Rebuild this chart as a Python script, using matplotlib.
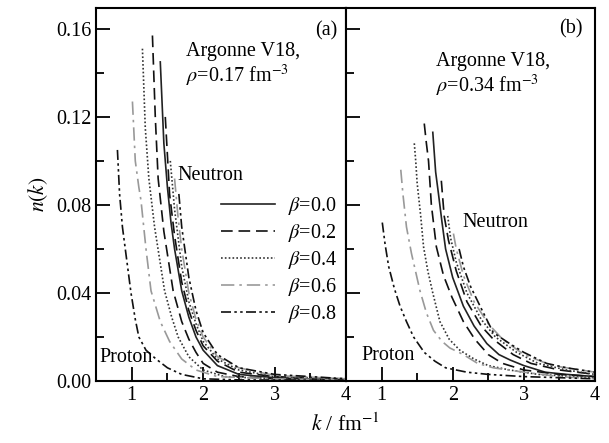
import numpy as np
import matplotlib
matplotlib.use('Agg')
import matplotlib.pyplot as plt
from matplotlib.ticker import MultipleLocator, FormatStrFormatter

matplotlib.rc('font', size=14.5)
matplotlib.rc('font', family='Liberation Serif')
matplotlib.rc('mathtext', fontset='stix')

betas = ['0.0', '0.2', '0.4', '0.6', '0.8']

# panel (a): rho = 0.17 fm^-3
a_k_b00 = [1.40, 1.45, 1.50, 1.55, 1.60, 1.70, 1.80, 1.90, 2.00, 2.20, 2.50, 3.00, 3.50, 4.00]
a_n_b00 = [0.145, 0.108, 0.088, 0.072, 0.060, 0.041, 0.029, 0.020, 0.014, 0.007, 0.003, 0.0015, 0.0008, 0.0005]

a_k_p02 = [1.29, 1.33, 1.37, 1.45, 1.58, 1.70, 1.80, 1.90, 2.00, 2.20, 2.50, 3.00, 4.00]
a_n_p02 = [0.157, 0.120, 0.092, 0.068, 0.041, 0.027, 0.019, 0.013, 0.008, 0.004, 0.002, 0.001, 0.0005]
a_k_n02 = [1.47, 1.53, 1.60, 1.70, 1.80, 1.90, 2.00, 2.20, 2.50, 3.00, 4.00]
a_n_n02 = [0.120, 0.085, 0.066, 0.045, 0.032, 0.023, 0.016, 0.009, 0.004, 0.002, 0.0008]

a_k_p04 = [1.15, 1.19, 1.24, 1.32, 1.46, 1.56, 1.65, 1.80, 2.00, 2.30, 3.00, 4.00]
a_n_p04 = [0.151, 0.115, 0.092, 0.070, 0.041, 0.029, 0.020, 0.011, 0.005, 0.002, 0.001, 0.0005]
a_k_n04 = [1.54, 1.60, 1.70, 1.80, 1.90, 2.00, 2.20, 2.50, 3.00, 4.00]
a_n_n04 = [0.100, 0.078, 0.052, 0.036, 0.026, 0.018, 0.010, 0.005, 0.002, 0.001]

a_k_p06 = [1.01, 1.05, 1.10, 1.13, 1.20, 1.27, 1.40, 1.53, 1.70, 1.90, 2.20, 3.00, 4.00]
a_n_p06 = [0.127, 0.100, 0.088, 0.082, 0.060, 0.041, 0.027, 0.018, 0.010, 0.005, 0.002, 0.001, 0.0005]
a_k_n06 = [1.60, 1.65, 1.70, 1.80, 1.90, 2.00, 2.20, 2.50, 3.00, 4.00]
a_n_n06 = [0.092, 0.074, 0.060, 0.040, 0.028, 0.020, 0.011, 0.006, 0.0025, 0.001]

a_k_p08 = [0.80, 0.83, 0.87, 0.93, 0.99, 1.05, 1.10, 1.20, 1.34, 1.50, 1.70, 2.00, 2.50, 4.00]
a_n_p08 = [0.105, 0.085, 0.070, 0.055, 0.040, 0.028, 0.020, 0.014, 0.010, 0.006, 0.003, 0.001, 0.0005, 0.0003]
a_k_n08 = [1.66, 1.70, 1.80, 1.90, 2.00, 2.20, 2.50, 3.00, 4.00]
a_n_n08 = [0.085, 0.070, 0.047, 0.032, 0.022, 0.012, 0.006, 0.003, 0.001]

# panel (b): rho = 0.34 fm^-3
b_k_b00 = [1.72, 1.76, 1.80, 1.85, 1.90, 2.00, 2.15, 2.30, 2.48, 2.65, 2.81, 3.00, 3.30, 3.60, 4.00]
b_n_b00 = [0.113, 0.095, 0.085, 0.072, 0.060, 0.047, 0.034, 0.025, 0.017, 0.012, 0.0095, 0.007, 0.004, 0.003, 0.002]

b_k_p02 = [1.60, 1.63, 1.66, 1.70, 1.77, 1.87, 1.99, 2.15, 2.31, 2.50, 2.70, 3.00, 3.50, 4.00]
b_n_p02 = [0.117, 0.108, 0.100, 0.080, 0.061, 0.048, 0.038, 0.027, 0.019, 0.012, 0.008, 0.005, 0.003, 0.002]
b_k_n02 = [1.84, 1.88, 1.94, 2.05, 2.20, 2.40, 2.57, 2.85, 3.10, 3.50, 4.00]
b_n_n02 = [0.091, 0.075, 0.064, 0.050, 0.036, 0.025, 0.019, 0.012, 0.008, 0.005, 0.003]

b_k_p04 = [1.46, 1.48, 1.50, 1.55, 1.59, 1.65, 1.72, 1.82, 1.95, 2.10, 2.30, 2.50, 2.80, 3.20, 4.00]
b_n_p04 = [0.108, 0.100, 0.090, 0.075, 0.061, 0.050, 0.040, 0.027, 0.019, 0.014, 0.010, 0.007, 0.005, 0.003, 0.0015]
b_k_n04 = [1.93, 1.97, 2.05, 2.20, 2.40, 2.60, 2.90, 3.20, 3.60, 4.00]
b_n_n04 = [0.075, 0.065, 0.054, 0.040, 0.028, 0.020, 0.013, 0.008, 0.005, 0.003]

b_k_p06 = [1.27, 1.30, 1.35, 1.42, 1.54, 1.63, 1.73, 1.85, 1.96, 2.15, 2.35, 2.57, 3.00, 3.50, 4.00]
b_n_p06 = [0.096, 0.085, 0.070, 0.058, 0.041, 0.031, 0.023, 0.018, 0.015, 0.012, 0.008, 0.006, 0.004, 0.002, 0.001]
b_k_n06 = [2.01, 2.05, 2.15, 2.30, 2.50, 2.70, 3.00, 3.40, 4.00]
b_n_n06 = [0.067, 0.060, 0.048, 0.036, 0.026, 0.019, 0.012, 0.007, 0.004]

b_k_p08 = [1.01, 1.05, 1.10, 1.18, 1.26, 1.35, 1.45, 1.60, 1.75, 1.90, 2.20, 2.50, 3.00, 4.00]
b_n_p08 = [0.072, 0.062, 0.052, 0.042, 0.034, 0.027, 0.020, 0.013, 0.009, 0.006, 0.004, 0.003, 0.002, 0.001]
b_k_n08 = [2.09, 2.15, 2.25, 2.40, 2.57, 2.80, 3.00, 3.32, 3.60, 4.00]
b_n_n08 = [0.060, 0.052, 0.043, 0.033, 0.022, 0.017, 0.013, 0.008, 0.006, 0.004]

styles = [dict(color='#222222', ls='-'),
          dict(color='#111111', ls=(0, (7, 3.5))),
          dict(color='#333333', ls=(0, (1, 1.3))),
          dict(color='#999999', ls=(0, (8, 3, 1.5, 3))),
          dict(color='#111111', ls=(0, (6, 2, 1.5, 2, 1.5, 2)))]

panel_a = [[(a_k_b00, a_n_b00)],
           [(a_k_p02, a_n_p02), (a_k_n02, a_n_n02)],
           [(a_k_p04, a_n_p04), (a_k_n04, a_n_n04)],
           [(a_k_p06, a_n_p06), (a_k_n06, a_n_n06)],
           [(a_k_p08, a_n_p08), (a_k_n08, a_n_n08)]]
panel_b = [[(b_k_b00, b_n_b00)],
           [(b_k_p02, b_n_p02), (b_k_n02, b_n_n02)],
           [(b_k_p04, b_n_p04), (b_k_n04, b_n_n04)],
           [(b_k_p06, b_n_p06), (b_k_n06, b_n_n06)],
           [(b_k_p08, b_n_p08), (b_k_n08, b_n_n08)]]

fig = plt.figure(figsize=(6.09, 4.43), dpi=100)
axa = fig.add_axes([96/609, 1-381/443, 250/609, 373/443])
axb = fig.add_axes([346/609, 1-381/443, 249/609, 373/443], sharey=axa)

for ax, curves in [(axa, panel_a), (axb, panel_b)]:
    for i, group in enumerate(curves):
        for j, (k, n) in enumerate(group):
            ax.plot(k, n, lw=1.2, label='$\\beta$=' + betas[i] if j == 0 else None,
                    **styles[i])
    ax.set_xlim(0.5, 4)
    ax.set_ylim(0, 0.1695)
    ax.xaxis.set_major_locator(MultipleLocator(1))
    ax.xaxis.set_minor_locator(MultipleLocator(0.5))
    ax.yaxis.set_major_locator(MultipleLocator(0.04))
    ax.yaxis.set_minor_locator(MultipleLocator(0.02))
    ax.yaxis.set_major_formatter(FormatStrFormatter('%.2f'))
    ax.tick_params(which='both', direction='in', top=False, right=False, width=1.3)
    ax.tick_params(which='major', length=10)
    ax.tick_params(which='minor', length=6)
    for s in ax.spines.values():
        s.set_linewidth(1.5)

axb.tick_params(labelleft=False)

axa.text(0.964, 0.94, '(a)', transform=axa.transAxes, ha='right', va='center')
axb.text(0.952, 0.945, '(b)', transform=axb.transAxes, ha='right', va='center')
axa.text(1.76, 0.1435, 'Argonne V18,\n$\\rho$=0.17 fm$^{-3}$', ha='left', va='center',
         linespacing=1.1)
axb.text(1.77, 0.1390, 'Argonne V18,\n$\\rho$=0.34 fm$^{-3}$', ha='left', va='center',
         linespacing=1.1)
axa.text(1.64, 0.0936, 'Neutron', ha='left', va='center')
axb.text(2.13, 0.0718, 'Neutron', ha='left', va='center')
axa.text(0.55, 0.0105, 'Proton', ha='left', va='center')
axb.text(0.72, 0.0118, 'Proton', ha='left', va='center')

axa.legend(loc='upper left', bbox_to_anchor=(0.46, 0.525), frameon=False,
           handlelength=2.7, handletextpad=0.6, labelspacing=0.25, borderpad=0)

axa.set_ylabel('$n(k)$', fontsize=15.5, labelpad=4)
fig.text(345/609, 1-425/443, '$k$ / fm$^{-1}$', ha='center', va='center', fontsize=15.5)

plt.savefig('out.png', dpi=100)
